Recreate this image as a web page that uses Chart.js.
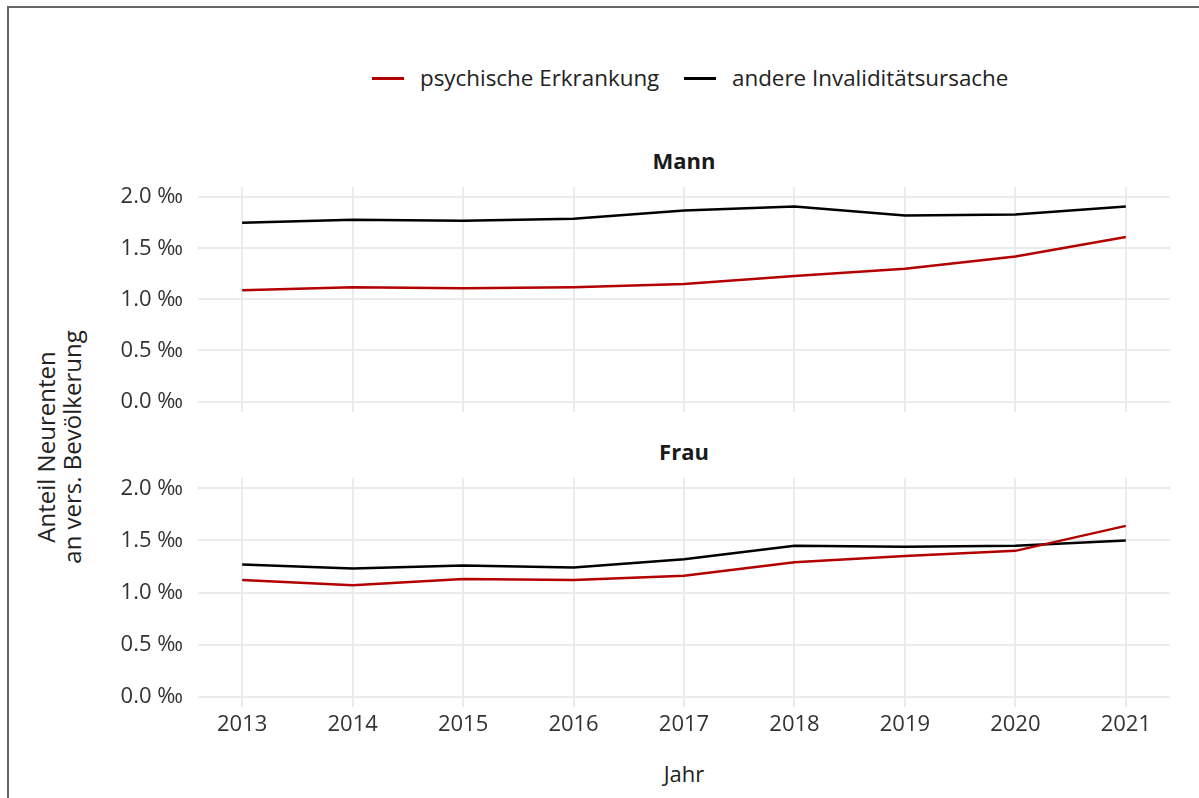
<!DOCTYPE html>
<html>
<head>
<meta charset="utf-8">
<script src="https://cdn.jsdelivr.net/npm/chart.js@4"></script>
<style>
body { margin: 0; background: #fff; font-family: "Open Sans", sans-serif; color: #222; }
#wrap { position: relative; width: 1199px; height: 798px; overflow: hidden; }
.frame { position: absolute; left: 7px; top: 6px; width: 1300px; height: 900px; border-left: 2px solid #666; border-top: 2px solid #666; }
canvas { position: absolute; left: 0; }
.txt { position: absolute; white-space: nowrap; font-size: 22px; line-height: 30px; }
.leg { font-size: 22.4px; }
.ttl { position: absolute; font-size: 22px; line-height: 30px; font-weight: bold; transform: translateX(-50%); color: #1a1a1a; }
.swatch { position: absolute; width: 32px; height: 2.5px; }
.ytitle { position: absolute; left: 59px; top: 447px; transform: translate(-50%, -50%) rotate(-90deg); font-size: 24px; text-align: center; line-height: 26px; white-space: nowrap; }
</style>
</head>
<body>
<div id="wrap">
  <div class="frame"></div>

  <div class="swatch" style="left:372px;top:77px;background:#b30000"></div>
  <div class="txt leg" style="left:420px;top:63px">psychische Erkrankung</div>
  <div class="swatch" style="left:684px;top:77px;background:#000"></div>
  <div class="txt leg" style="left:732px;top:63px">andere Invaliditätsursache</div>

  <div class="ttl" style="left:684px;top:145px">Mann</div>
  <div class="ttl" style="left:684px;top:436px">Frau</div>

  <div class="ytitle">Anteil Neurenten<br>an vers. Bevölkerung</div>
  <div class="txt" style="left:684px;top:758px;transform:translateX(-50%)">Jahr</div>

  <canvas id="top" width="1199" height="300" style="top:140px"></canvas>
  <canvas id="bottom" width="1199" height="320" style="top:440px"></canvas>
</div>

<script>
const years = [2013, 2014, 2015, 2016, 2017, 2018, 2019, 2020, 2021];

// Mann
const mannPsych = [1.09, 1.12, 1.11, 1.12, 1.15, 1.23, 1.30, 1.42, 1.61];
const mannOther = [1.75, 1.78, 1.77, 1.79, 1.87, 1.91, 1.82, 1.83, 1.91];

// Frau
const frauPsych = [1.12, 1.07, 1.13, 1.12, 1.16, 1.29, 1.35, 1.40, 1.64];
const frauOther = [1.27, 1.23, 1.26, 1.24, 1.32, 1.45, 1.44, 1.45, 1.50];

const yTicks = [0, 0.5, 1.0, 1.5, 2.0];
const yTickLabels = ['0.0 ‰', '0.5 ‰', '1.0 ‰', '1.5 ‰', '2.0 ‰'];

const fontFamily = '"Open Sans", sans-serif';
const gridColor = '#ebebeb';

function makeChart(id, psych, other, showX, padTop, padBottom) {
    const ctx = document.getElementById(id).getContext('2d');
    return new Chart(ctx, {
        type: 'line',
        data: {
            datasets: [
                { label: 'psychische Erkrankung', data: years.map((y, i) => ({ x: y, y: psych[i] })), borderColor: '#b30000' },
                { label: 'andere Invaliditätsursache', data: years.map((y, i) => ({ x: y, y: other[i] })), borderColor: '#000000' }
            ]
        },
        options: {
            animation: false,
            responsive: false,
            layout: { padding: { left: 0, right: 29, top: padTop, bottom: padBottom } },
            plugins: { legend: { display: false }, tooltip: { enabled: false } },
            elements: { point: { radius: 0 }, line: { borderWidth: 2.5, tension: 0, fill: false } },
            scales: {
                x: {
                    type: 'linear',
                    min: 2012.6,
                    max: 2021.4,
                    afterBuildTicks: s => { s.ticks = years.map(v => ({ value: v })); },
                    afterFit: s => { s.height = showX ? 40 : 0; },
                    grid: { color: gridColor, lineWidth: 2, drawTicks: false },
                    border: { display: false },
                    ticks: {
                        display: showX, padding: 5, color: '#333', autoSkip: false, maxRotation: 0,
                        font: { size: 22, family: fontFamily },
                        callback: v => String(v)
                    }
                },
                y: {
                    min: -0.1,
                    max: 2.1,
                    afterBuildTicks: s => { s.ticks = yTicks.map(v => ({ value: v })); },
                    afterFit: s => { s.width = 198; },
                    grid: { color: gridColor, lineWidth: 2, drawTicks: false },
                    border: { display: false },
                    ticks: {
                        padding: 15, color: '#333',
                        font: { size: 22, family: fontFamily },
                        callback: v => yTickLabels[yTicks.indexOf(v)]
                    }
                }
            }
        }
    });
}

makeChart('top', mannPsych, mannOther, false, 47, 24);
makeChart('bottom', frauPsych, frauOther, true, 38, 13);
</script>
</body>
</html>
